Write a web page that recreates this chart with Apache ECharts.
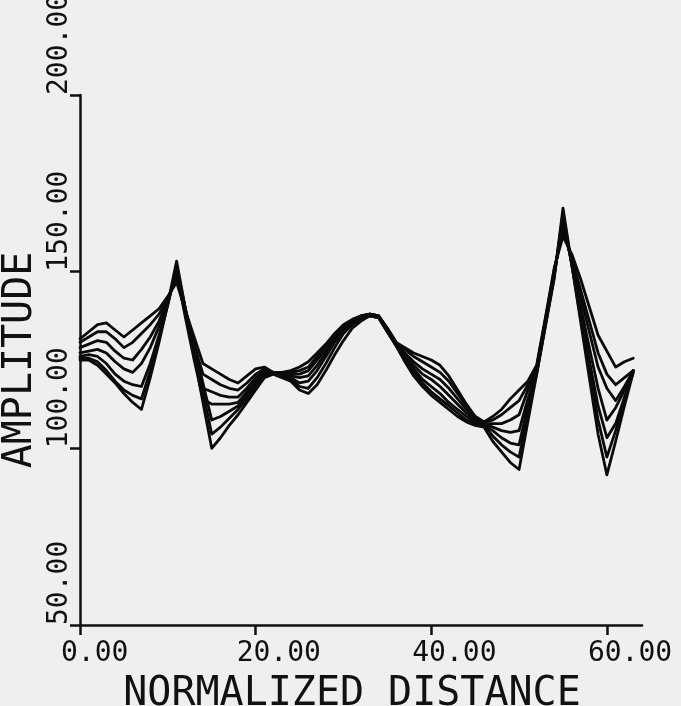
<!DOCTYPE html>
<html>
<head>
<meta charset="utf-8">
<script src="https://cdn.jsdelivr.net/npm/echarts@6/dist/echarts.min.js"></script>
<style>
html,body{margin:0;padding:0;background:#efefed;}
#chart{width:681px;height:706px;}
</style>
</head>
<body>
<div id="chart"></div>
<script>
// Normalized distance samples (x) shared by every curve
const xValues = [0,1,2,3,4,5,6,7,8,9,10,11,12,13,14,15,16,17,18,19,20,21,22,23,24,25,26,27,28,29,30,31,
  32,33,34,35,36,37,38,39,40,41,42,43,44,45,46,47,48,49,50,51,52,53,54,55,56,57,58,59,60,61,62,63];

// Amplitude curves (7 traces)
const curve1 = [131,133,135,135.5,133.5,131.5,133.5,135.5,137.5,139.5,143,147,
  139,131.5,124,122.5,121,119.5,118.5,120.5,122.5,123,121.5,
  121.5,122,123,124.5,127,129.5,132.5,135,136.5,137.5,138,137.5,134,
  130,128.5,127,126,125,123.5,120.5,116.5,112.5,109,107.5,
  109,111,114,116.5,119,123.5,137,151,160,
  155,148,140,132,127.5,123,124.5,125.5];
const curve2 = [130,131.5,133,133,131,128.5,130,132.5,135,138,142.5,148,
  138.5,129.5,121,119.5,118,117,116.5,118.5,121,122.5,121.5,
  121.5,121.5,122,123,126,129,132,134.5,136,137.5,138,137.5,134,
  130,128,126,124.5,123,121.5,119,115.5,112,109,107.5,
  108,109.5,111.5,113.5,118,123,136.5,150.5,161.5,
  154,145,136,127,121,118,120,122];
const curve3 = [128.5,129.5,130.5,130,127.5,125.5,125,128,131.5,136,142,149,
  138,127.5,117,116,115,114.5,114.5,117,120,122,121.5,
  121,121,121,122,125,128,131.5,134,136,137.5,138,137.5,133.5,
  129.5,127,124.5,122.5,121,119.5,117,114,111,108.5,107,
  107,107,108,109.5,116.5,122.5,136,150,163,
  153,143,133,123,117,113.5,117.5,122];
const curve4 = [127,127.5,128,127,124.5,122.5,121.5,124,128.5,134.5,141.5,150,
  137,125,114,112.5,112.5,112.5,113,116,119,121.5,121.5,
  121,120.5,120,120.5,123.5,127,131,134,136,137,138,137.5,133.5,
  129.5,126.5,123.5,121,119.5,117.5,115,112.5,110,108,107,
  106,105,104.5,105,114,122,135.5,149.5,164,
  152.5,140.5,128.5,117,108,111.5,116.5,122];
const curve5 = [126,126.5,126,124,121,119,118,117.5,124,132,141,150.5,
  139.5,129,118.5,108,109,110.5,112,115,118.5,121,121.5,
  120.5,120,118.5,119,122,126,130,133.5,135.5,137,137.5,137,133,
  129.5,126,122.5,119.5,117.5,115.5,113,111,109,107.5,106.5,
  105,103,101.5,101,112,121.5,135,149,165,
  152,138.5,125,112,103,107,114.5,122];
const curve6 = [125.5,125.5,124.5,122,119,116.5,115,114,122,131,140.5,151.5,
  139.5,128,116,104,106,108.5,111,114,117.5,120.5,121.5,
  120.5,119.5,117.5,117,120,124,128.5,132.5,135,136.5,137.5,137,133,
  129,125,121.5,118.5,116,114,112,110,108,107,106.5,
  103.5,101,99,97.5,110,121,135,148.5,166.5,
  152,137,122.5,108,97.5,105,113.5,121.5];
const curve7 = [125,125,123.5,121,118.5,115.5,113,111,120,130,141,153,
  139.5,126.5,113,100,103,106.5,109.5,113,116.5,120,121,
  120,119,116.5,115.5,118,122,126.5,130.5,134,136,137.5,137,133,
  129,124.5,120.5,117.5,115,113,111,109,107.5,106.5,106,
  102,99,96,94,107.5,121,134.5,148,168,
  152,136,120,104,92.5,102,112,121.5];

const curves = [curve1, curve2, curve3, curve4, curve5, curve6, curve7];
const xTicks = [0, 20, 40, 60];
const yTicks = [50, 100, 150, 200];
const xTitle = 'NORMALIZED DISTANCE';
const yTitle = 'AMPLITUDE';

const ink = '#111111';
const monoFont = '"DejaVu Sans Mono", "Liberation Mono", monospace';

const chart = echarts.init(document.getElementById('chart'), null, {renderer: 'canvas'});

const series = curves.map(function (c) {
  return {
    type: 'line',
    data: xValues.map(function (x, i) { return [x, c[i]]; }),
    showSymbol: false,
    symbol: 'none',
    silent: true,
    lineStyle: {color: '#0b0b0b', width: 2.8, join: 'round', cap: 'round'}
  };
});

chart.setOption({
  backgroundColor: '#efefed',
  animation: false,
  grid: {left: 80, right: 39, top: 95, bottom: 81, containLabel: false, outerBoundsMode: 'none'},
  xAxis: {
    type: 'value',
    min: 0,
    max: 64,
    interval: 20,
    name: xTitle,
    nameLocation: 'middle',
    nameGap: 50,
    nameMoveOverlap: false,
    nameTextStyle: {fontFamily: monoFont, fontSize: 40, color: ink, padding: [0, 0, 0, -18]},
    axisLine: {show: true, onZero: false, lineStyle: {color: ink, width: 2.5}},
    axisTick: {show: true, inside: false, length: 10, customValues: xTicks, lineStyle: {color: ink, width: 2.5}},
    axisLabel: {
      customValues: xTicks,
      fontFamily: monoFont, fontSize: 28, color: ink,
      align: 'left', verticalAlign: 'top', margin: 15,
      padding: [0, 0, 0, -19],
      formatter: function (v) { return Number(v).toFixed(2); }
    },
    splitLine: {show: false}
  },
  yAxis: {
    type: 'value',
    min: 50,
    max: 200,
    interval: 50,
    name: yTitle,
    nameLocation: 'middle',
    nameGap: 39,
    nameRotate: 90,
    nameMoveOverlap: false,
    nameTextStyle: {fontFamily: monoFont, fontSize: 40, color: ink},
    axisLine: {show: true, onZero: false, lineStyle: {color: ink, width: 2.5}},
    axisTick: {show: true, inside: false, length: 10, lineStyle: {color: ink, width: 2.5}},
    axisLabel: {
      customValues: yTicks,
      fontFamily: monoFont, fontSize: 28, color: ink,
      rotate: 90, align: 'left', verticalAlign: 'bottom', margin: 6,
      formatter: function (v) { return Number(v).toFixed(2); }
    },
    splitLine: {show: false}
  },
  series: series
});
</script>
</body>
</html>
